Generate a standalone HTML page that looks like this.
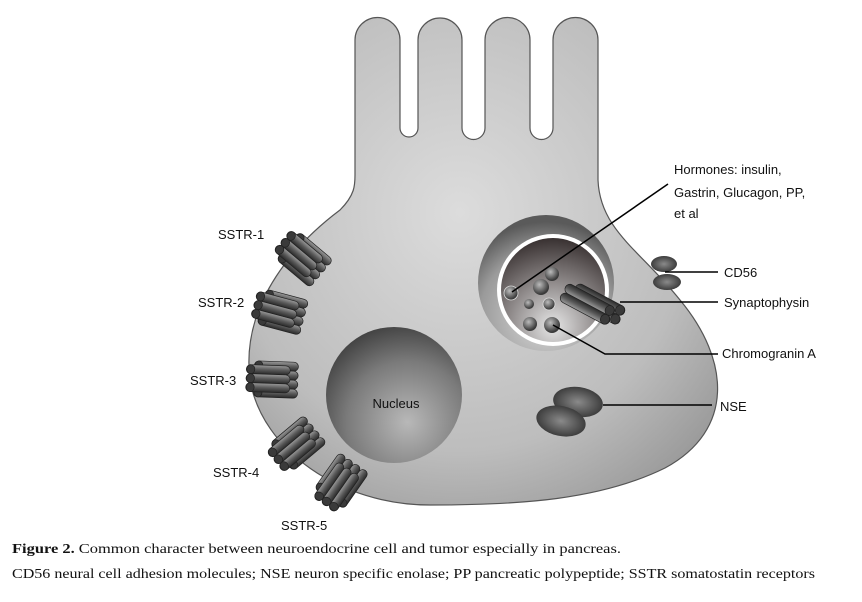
<!DOCTYPE html>
<html><head><style>html,body{margin:0;padding:0;background:#fff;}svg{display:block}</style></head>
<body>
<svg width="862" height="602" viewBox="0 0 862 602" xmlns="http://www.w3.org/2000/svg">
<defs>
<radialGradient id="cell" cx="0.45" cy="0.4" r="0.7">
<stop offset="0" stop-color="#dcdcdc"/><stop offset="0.7" stop-color="#bdbdbd"/><stop offset="1" stop-color="#9a9a9a"/></radialGradient>
<radialGradient id="nuc" cx="0.6" cy="0.7" r="0.75">
<stop offset="0" stop-color="#b8b8b8"/><stop offset="0.6" stop-color="#7a7a7a"/><stop offset="1" stop-color="#3e3e3e"/></radialGradient>
<radialGradient id="ves" cx="0.5" cy="0.75" r="0.7">
<stop offset="0" stop-color="#dcdcdc"/><stop offset="0.7" stop-color="#9a9a9a"/><stop offset="1" stop-color="#5a5a5a"/></radialGradient>
<radialGradient id="vin" cx="0.5" cy="0.85" r="0.9">
<stop offset="0" stop-color="#e6e6e6"/><stop offset="0.5" stop-color="#8a8585"/><stop offset="1" stop-color="#2e2626"/></radialGradient>
<radialGradient id="ball" cx="0.4" cy="0.35" r="0.6">
<stop offset="0" stop-color="#bcbcbc"/><stop offset="1" stop-color="#3a3a3a"/></radialGradient>
<radialGradient id="oval" cx="0.5" cy="0.5" r="0.6">
<stop offset="0" stop-color="#8a8a8a"/><stop offset="1" stop-color="#2e2e2e"/></radialGradient>
<linearGradient id="rodg" x1="0" y1="0" x2="0" y2="1">
<stop offset="0" stop-color="#9a9a9a"/><stop offset="0.5" stop-color="#5a5a5a"/><stop offset="1" stop-color="#2a2a2a"/></linearGradient>
<g id="rod"><rect x="0" y="-4.5" width="44" height="9" rx="4.5" fill="url(#rodg)" stroke="#222" stroke-width="0.7"/><ellipse cx="4.5" cy="0" rx="4" ry="4.5" fill="#3a3a3a" stroke="#222" stroke-width="0.7"/></g>
<g id="bundle">
<use href="#rod" x="8" y="-13"/><use href="#rod" x="8" y="-4"/><use href="#rod" x="8" y="5"/><use href="#rod" x="8" y="14"/>
<use href="#rod" x="0" y="-9"/><use href="#rod" x="0" y="0"/><use href="#rod" x="0" y="9"/>
</g>
<g id="srod"><rect x="0" y="-5" width="55" height="10" rx="5" fill="url(#rodg)" stroke="#222" stroke-width="0.7"/><ellipse cx="5" cy="0" rx="4.5" ry="5" fill="#3a3a3a" stroke="#222" stroke-width="0.7"/></g>
</defs>

<path d="M355 175 L355 40 A22.5 22.5 0 0 1 400 40 L400 128 A9 9 0 0 0 418 128 L418 40 A22 22 0 0 1 462 40 L462 128 A11.5 11.5 0 0 0 485 128 L485 40 A22.5 22.5 0 0 1 530 40 L530 128 A11.5 11.5 0 0 0 553 128 L553 40 A22.5 22.5 0 0 1 598 40 L598 180 C600 230 640 250 680 300 C730 360 735 430 665 468 C600 500 520 505 430 505 C340 505 262 450 250 380 C240 300 300 240 340 210 C355 195 355 185 355 175 Z" fill="url(#cell)" stroke="#555" stroke-width="1.2"/>

<g transform="translate(282,240) rotate(40)"><use href="#bundle"/></g>
<g transform="translate(254,304) rotate(15)"><use href="#bundle"/></g>
<g transform="translate(246,378) rotate(2)"><use href="#bundle"/></g>
<g transform="translate(275,462) rotate(-40)"><use href="#bundle"/></g>
<g transform="translate(324,505) rotate(-55)"><use href="#bundle"/></g>

<circle cx="394" cy="395" r="68" fill="url(#nuc)"/>
<text x="396" y="408" font-family="Liberation Sans, sans-serif" font-size="13" text-anchor="middle" fill="#111">Nucleus</text>

<circle cx="546" cy="283" r="68" fill="url(#ves)"/>
<circle cx="553" cy="290" r="56" fill="#fff"/>
<circle cx="553" cy="290" r="52" fill="url(#vin)"/>
<circle cx="511" cy="293" r="7" fill="url(#ball)" stroke="#ddd" stroke-width="0.8"/>
<circle cx="552" cy="274" r="7" fill="url(#ball)"/>
<circle cx="541" cy="287" r="8" fill="url(#ball)"/>
<circle cx="529" cy="304" r="5" fill="url(#ball)"/>
<circle cx="549" cy="304" r="6" fill="url(#ball)" stroke="#ddd" stroke-width="0.8"/>
<circle cx="530" cy="324" r="7" fill="url(#ball)"/>
<circle cx="552" cy="325" r="8" fill="url(#ball)"/>
<g transform="translate(622,317) rotate(208)">
<use href="#srod" x="0" y="-5"/><use href="#srod" x="0" y="5"/><use href="#srod" x="9" y="-10"/><use href="#srod" x="9" y="0"/>
</g>

<ellipse cx="664" cy="264" rx="13" ry="8" fill="url(#oval)"/>
<ellipse cx="667" cy="282" rx="14" ry="8" fill="url(#oval)"/>
<ellipse cx="578" cy="402" rx="25" ry="15" fill="url(#oval)" transform="rotate(8 578 402)"/>
<ellipse cx="561" cy="421" rx="25" ry="15" fill="url(#oval)" transform="rotate(12 561 421)"/>

<g stroke="#000" stroke-width="1.5" fill="none">
<line x1="512" y1="292" x2="668" y2="184"/>
<line x1="665" y1="272" x2="718" y2="272"/>
<line x1="620" y1="302" x2="718" y2="302"/>
<polyline points="553,325 605,354 718,354"/>
<line x1="603" y1="405" x2="712" y2="405"/>
</g>

<g font-family="Liberation Sans, sans-serif" font-size="13" fill="#111">
<text x="674" y="174">Hormones: insulin,</text>
<text x="674" y="197">Gastrin, Glucagon, PP,</text>
<text x="674" y="218">et al</text>
<text x="724" y="277">CD56</text>
<text x="724" y="307">Synaptophysin</text>
<text x="722" y="358">Chromogranin A</text>
<text x="720" y="411">NSE</text>
<text x="218" y="239">SSTR-1</text>
<text x="198" y="307">SSTR-2</text>
<text x="190" y="385">SSTR-3</text>
<text x="213" y="477">SSTR-4</text>
<text x="281" y="530">SSTR-5</text>
</g>

<g font-family="Liberation Serif, serif" font-size="14" fill="#111">
<text x="12" y="553" textLength="609" lengthAdjust="spacingAndGlyphs"><tspan font-weight="bold">Figure 2.</tspan> Common character between neuroendocrine cell and tumor especially in pancreas.</text>
<text x="12" y="578" textLength="803" lengthAdjust="spacingAndGlyphs">CD56 neural cell adhesion molecules; NSE neuron specific enolase; PP pancreatic polypeptide; SSTR somatostatin receptors</text>
</g>
</svg>
</body></html>
